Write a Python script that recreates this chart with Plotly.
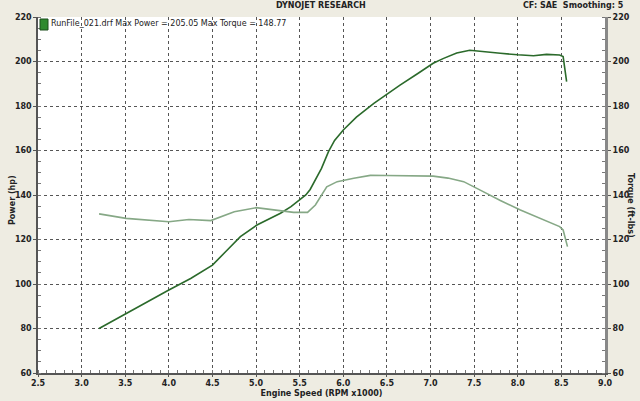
import plotly.graph_objects as go

# Data
power_rpm = [3.20, 3.51, 4.00, 4.25, 4.50, 4.65, 4.82, 5.01, 5.15, 5.28, 5.40, 5.51, 5.57, 5.62, 5.66, 5.75, 5.83, 5.90, 6.00,
             6.15, 6.35, 6.50, 6.65, 6.85, 7.03, 7.15, 7.30, 7.45, 7.60, 7.80, 8.00, 8.18, 8.33, 8.48, 8.52, 8.54, 8.56]
power_hp = [80.0, 86.8, 97.3, 102.5, 108.5, 114.5, 121.3, 126.5, 129.3, 131.8, 134.8, 138.0, 140.0, 142.5, 145.5, 152.0, 159.5, 164.5, 169.2,
            175.0, 181.2, 185.5, 189.4, 194.5, 199.2, 201.4, 203.8, 205.05, 204.6, 203.7, 203.0, 202.6, 203.2, 202.9, 202.2, 197.0, 191.0]

torque_rpm = [3.20, 3.51, 4.00, 4.23, 4.48, 4.75, 5.00, 5.24, 5.43, 5.59, 5.68, 5.81, 5.93, 6.12, 6.31,
              6.50, 6.70, 7.03, 7.20, 7.38, 7.57, 7.80, 8.03, 8.29, 8.48, 8.52, 8.57]
torque_ftlb = [131.5, 129.5, 128.0, 129.0, 128.5, 132.5, 134.3, 133.3, 132.2, 132.2, 135.5, 143.7, 146.0, 147.5, 148.8,
               148.77, 148.6, 148.5, 147.6, 146.0, 142.2, 137.5, 133.3, 129.1, 125.8, 124.3, 116.8]

x_ticks = [2.5, 3.0, 3.5, 4.0, 4.5, 5.0, 5.5, 6.0, 6.5, 7.0, 7.5, 8.0, 8.5, 9.0]
y_ticks = [60, 80, 100, 120, 140, 160, 180, 200, 220]

POWER_C = "#2b6a2b"
TORQUE_C = "#86a886"
FONT = "DejaVu Sans"

fig = go.Figure()
fig.add_trace(go.Scatter(x=power_rpm, y=power_hp, mode="lines", name="Power",
                         line=dict(color=POWER_C, width=1.6)))
fig.add_trace(go.Scatter(x=torque_rpm, y=torque_ftlb, mode="lines", name="Torque", yaxis="y2",
                         line=dict(color=TORQUE_C, width=1.6)))

axis_font = dict(family=FONT, size=8, color="#222222", weight="bold")
fig.update_layout(
    width=640, height=401,
    margin=dict(l=38, r=35, t=17, b=28),
    paper_bgcolor="#eeece2",
    plot_bgcolor="#ffffff",
    showlegend=False,
    xaxis=dict(range=[2.5, 9.0], tickvals=x_ticks, ticktext=[f"{v:.1f}" for v in x_ticks],
               showgrid=True, gridcolor="#555555", griddash="dot", gridwidth=1, automargin=False,
               zeroline=False, showline=True, linecolor="#555555", linewidth=1.5,
               ticks="outside", ticklen=2, tickcolor="#555555", tickfont=axis_font,
               minor=dict(dtick=0.1, ticks="inside", ticklen=3, tickcolor="#777777", showgrid=False),
               title=dict(text="Engine Speed (RPM x1000)", font=axis_font, standoff=3)),
    yaxis=dict(range=[60, 220], tickvals=y_ticks, showgrid=True, gridcolor="#555555", griddash="dot",
               zeroline=False, showline=True, linecolor="#555555", linewidth=1.5, automargin=False,
               ticks="outside", ticklen=3, tickcolor="#555555", tickfont=axis_font,
               minor=dict(dtick=5, ticks="inside", ticklen=3, tickcolor="#777777", showgrid=False)),
    yaxis2=dict(range=[60, 220], tickvals=y_ticks, overlaying="y", side="right", showgrid=False,
                zeroline=False, showline=True, linecolor="#888888", linewidth=3, automargin=False,
                ticks="outside", ticklen=3, tickcolor="#555555", tickfont=axis_font,
                minor=dict(dtick=5, ticks="inside", ticklen=3, tickcolor="#777777")),
)


def px_x(p):
    return (p - 38) / (605 - 38)


def px_y(p):
    return (373 - p) / (373 - 17)


fig.add_annotation(text="DYNOJET RESEARCH", x=px_x(321), y=px_y(6), xref="paper", yref="paper",
                   xanchor="center", yanchor="middle", showarrow=False, font=axis_font)
fig.add_annotation(text="CF: SAE&nbsp;&nbsp;Smoothing: 5", x=px_x(521), y=px_y(6), xref="paper", yref="paper",
                   xanchor="left", yanchor="middle", showarrow=False, font=axis_font)
fig.add_annotation(text="Power (hp)", x=px_x(12), y=px_y(200), xref="paper", yref="paper",
                   xanchor="center", yanchor="middle", textangle=-90, showarrow=False, font=axis_font)
fig.add_annotation(text="Torque (ft-lbs)", x=px_x(630), y=px_y(205), xref="paper", yref="paper",
                   xanchor="center", yanchor="middle", textangle=90, showarrow=False, font=axis_font)
fig.add_annotation(text="RunFile_021.drf Max Power = 205.05 Max Torque = 148.77", x=px_x(49), y=px_y(24),
                   xref="paper", yref="paper", xanchor="left", yanchor="middle", showarrow=False,
                   font=dict(family=FONT, size=8, color="#222222"))
fig.add_shape(type="rect", xref="paper", yref="paper", x0=px_x(40), x1=px_x(48), y0=px_y(30), y1=px_y(19),
              fillcolor="#2f8a2f", line=dict(color="#1c4f1c", width=1))

fig.write_html("out.html", config={"displayModeBar": False},
               post_script="document.body.style.margin='0px';document.body.style.overflow='hidden';")
